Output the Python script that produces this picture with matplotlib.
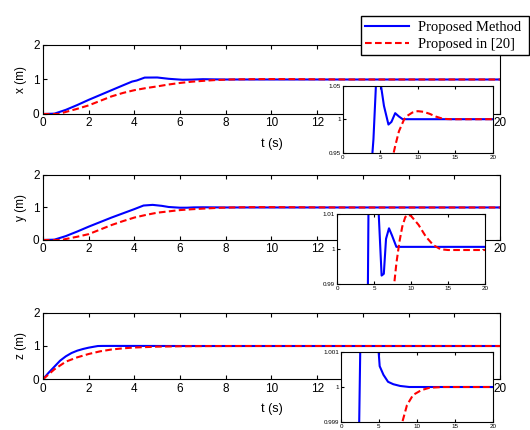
"""
Position response of x, y, z for the proposed method vs. the method in [20],
with zoomed insets around the set point.
"""
import matplotlib.pyplot as plt

# x position
T_X_BLUE = [0, 0.5, 1, 1.5, 2, 2.5, 3, 3.5, 3.9, 4.1, 4.45, 5.0, 5.5, 6.1,
            6.5, 7.0, 7.5, 8.0, 20]
X_BLUE = [0, 0.01, 0.12, 0.26, 0.41, 0.55, 0.69, 0.83, 0.94, 0.97, 1.055,
          1.058, 1.02, 0.992, 0.996, 1.009, 1.004, 1.0, 1.0]
T_X_RED = [0, 0.7, 1, 1.5, 2, 2.5, 3, 3.5, 4, 4.5, 5, 5.5, 6, 6.5, 7, 7.5,
           8.2, 8.6, 9.3, 10, 10.8, 11.6, 12.4, 13.4, 14.5, 20]
X_RED = [0, 0.0, 0.06, 0.15, 0.25, 0.38, 0.51, 0.61, 0.69, 0.75, 0.80, 0.855,
         0.90, 0.935, 0.96, 0.982, 1.0, 1.005, 1.010, 1.012, 1.011, 1.008,
         1.004, 1.0005, 1.0, 1.0]

# y position
T_Y_BLUE = [0, 0.5, 1, 1.5, 2, 2.5, 3, 3.5, 4.0, 4.4, 4.8, 5.2, 5.5, 6.0,
            6.3, 6.6, 7.0, 7.4, 8.0, 20]
Y_BLUE = [0, 0.01, 0.12, 0.26, 0.41, 0.55, 0.69, 0.82, 0.95, 1.06, 1.08,
          1.05, 1.015, 0.9925, 0.993, 1.003, 1.006, 1.004, 1.0007, 1.0007]
T_Y_RED = [0, 0.8, 1, 1.5, 2, 2.5, 3, 3.5, 4, 4.5, 5, 5.5, 6, 6.5, 7, 7.7,
           8.0, 8.4, 8.8, 9.2, 9.6, 10.0, 11, 12, 13, 14, 15, 20]
Y_RED = [0, 0, 0.03, 0.1, 0.18, 0.32, 0.46, 0.58, 0.69, 0.77, 0.84, 0.88,
         0.92, 0.945, 0.965, 0.99, 0.996, 1.002, 1.0065, 1.0092, 1.0099,
         1.0095, 1.007, 1.0036, 1.0012, 1.0, 0.9998, 0.9998]

# z position
T_Z_BLUE = [0, 0.25, 0.5, 0.75, 1, 1.25, 1.5, 1.75, 2, 2.2, 2.4, 2.6, 3, 4,
            4.9, 5.1, 5.6, 6.2, 6.9, 7.8, 9, 20]
Z_BLUE = [0, 0.2, 0.38, 0.56, 0.69, 0.79, 0.86, 0.91, 0.95, 0.975, 0.999,
          1.002, 1.0025, 1.002, 1.0012, 1.0006, 1.00035, 1.00015, 1.00008,
          1.00003, 1.0, 1.0]
T_Z_RED = [0, 0.5, 1, 1.5, 2, 2.5, 3, 3.5, 4, 5, 6, 7, 8.1, 8.7, 9.5, 10.6,
           11.7, 13.5, 20]
Z_RED = [0, 0.3, 0.53, 0.66, 0.76, 0.84, 0.895, 0.93, 0.955, 0.98, 0.992,
         0.997, 0.999, 0.99948, 0.99977, 0.99991, 0.99998, 1.0, 1.0]

Y_LABELS = ["x (m)", "y (m)", "z (m)"]
INSET_YLIM = [(0.95, 1.05), (0.99, 1.01), (0.999, 1.001)]
INSET_YTICKS = [(0.95, 1, 1.05), (0.99, 1, 1.01), (0.999, 1, 1.001)]
INSET_YTICKLABELS = [("0.95", "1", "1.05"), ("0.99", "1", "1.01"),
                     ("0.999", "1", "1.001")]

MAIN_POS = [[0.0811, 0.7349, 0.8623, 0.1605],
            [0.0811, 0.4419, 0.8623, 0.1512],
            [0.0811, 0.1179, 0.8623, 0.1549]]
INSET_POS = [[0.6466, 0.6449, 0.2830, 0.1558],
             [0.6364, 0.3388, 0.2787, 0.1628],
             [0.6434, 0.0193, 0.2862, 0.1614]]

BLUE = "#0000ff"
RED = "#ff0000"

plt.rcParams["font.family"] = ["Liberation Sans", "DejaVu Sans"]

series = [(T_X_BLUE, X_BLUE, T_X_RED, X_RED),
          (T_Y_BLUE, Y_BLUE, T_Y_RED, Y_RED),
          (T_Z_BLUE, Z_BLUE, T_Z_RED, Z_RED)]

fig = plt.figure(figsize=(5.3, 4.3), dpi=100, facecolor="white")

for i, (tb, vb, tr, vr) in enumerate(series):
    ax = fig.add_axes(MAIN_POS[i])
    line_b, = ax.plot(tb, vb, color=BLUE, lw=1.5, label="Proposed Method")
    line_r, = ax.plot(tr, vr, color=RED, lw=1.5, ls=(0, (3.2, 1.6)),
                      label="Proposed in [20]")
    ax.set_xlim(0, 20)
    ax.set_ylim(0, 2)
    ax.set_xticks(range(0, 21, 2))
    ax.set_yticks([0, 1, 2])
    ax.tick_params(direction="in", top=True, right=True, length=3,
                   labelsize=8.5, pad=2.5)
    ax.set_ylabel(Y_LABELS[i], fontsize=8.5, labelpad=4)
    if i != 1:
        ax.set_xlabel("t (s)", fontsize=9, labelpad=6)

    ins = fig.add_axes(INSET_POS[i])
    ins.plot(tb, vb, color=BLUE, lw=1.5)
    ins.plot(tr, vr, color=RED, lw=1.5, ls=(0, (3.2, 1.6)))
    ins.set_xlim(0, 20)
    ins.set_ylim(*INSET_YLIM[i])
    ins.set_xticks([0, 5, 10, 15, 20])
    ins.set_yticks(INSET_YTICKS[i])
    ins.set_yticklabels(INSET_YTICKLABELS[i])
    ins.tick_params(direction="in", top=True, right=True, length=2,
                    labelsize=4.5, pad=1.5)

leg = fig.legend([line_b, line_r], ["Proposed Method", "Proposed in [20]"],
                 loc="lower left", bbox_to_anchor=(0.6806, 0.8721, 0.317, 0.1047),
                 mode="expand", prop={"family": "Liberation Serif", "size": 10.5},
                 frameon=True, fancybox=False, framealpha=1, edgecolor="black",
                 borderpad=0.3, handlelength=3.0, handletextpad=0.6,
                 labelspacing=0.25, borderaxespad=0)
leg.get_frame().set_linewidth(1.0)

plt.savefig("out.png", dpi=100)
plt.close()
